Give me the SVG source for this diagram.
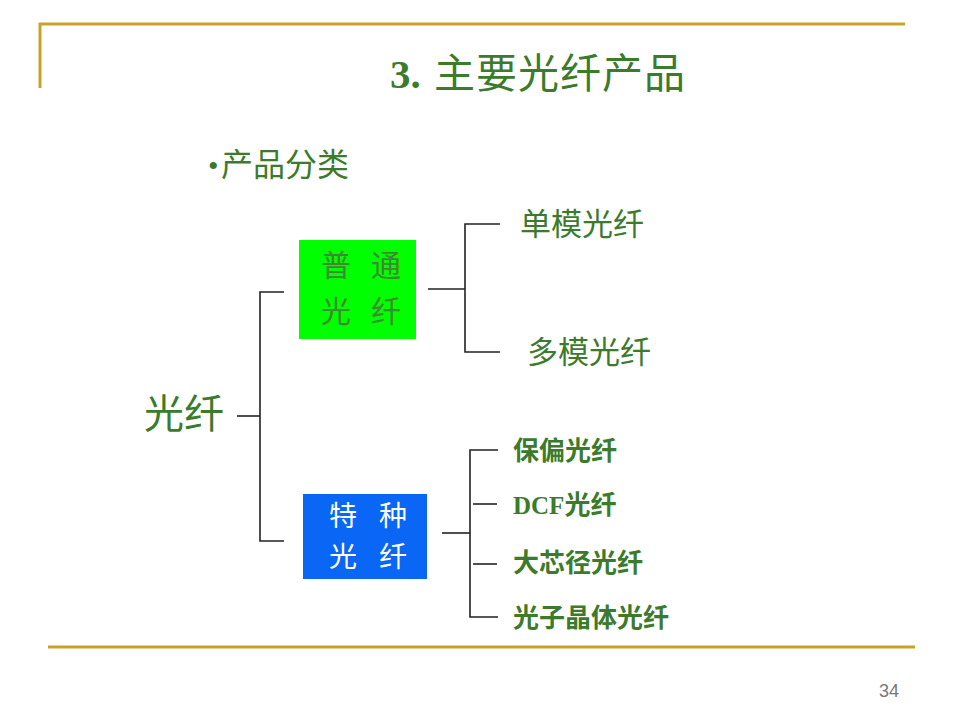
<svg xmlns="http://www.w3.org/2000/svg" width="960" height="720" viewBox="0 0 960 720">
<style>
.g{fill:#3b7b2b;font-family:"Noto Sans CJK SC","Liberation Serif",serif}
.b{font-weight:bold}
.frame{stroke:#c9a227;stroke-width:3;fill:none}
.ln{stroke:#222;stroke-width:1.6;fill:none}
.w{fill:#ffffff;font-family:"Noto Sans CJK SC",sans-serif;font-size:28px}
.gt{fill:#3f8a2f;font-family:"Noto Sans CJK SC",sans-serif;font-size:30px}
</style>
<rect width="960" height="720" fill="#ffffff"/>
<g id="frame">
<line class="frame" x1="39" y1="24" x2="905" y2="24"/>
<line class="frame" x1="40" y1="23" x2="40" y2="88" stroke-width="2"/>
<line class="frame" x1="48" y1="647" x2="915" y2="647"/>
</g>
<g id="title">
<text x="390" y="88" class="g" font-size="41"><tspan font-family="Liberation Serif" font-weight="bold">3.</tspan><tspan x="434" letter-spacing="1">主要光纤产品</tspan></text>
</g>
<g id="subtitle">
<text x="208" y="176" class="g" font-size="32"><tspan font-family="Liberation Serif" font-size="30">•</tspan><tspan x="221">产品分类</tspan></text>
</g>
<g id="connectors">
<polyline class="ln" points="237,416 260,416"/>
<polyline class="ln" points="284,292 260,292 260,541 284,541"/>
<polyline class="ln" points="428,289 465,289"/>
<polyline class="ln" points="500,224 465,224 465,352 500,352"/>
<polyline class="ln" points="442,533 470,533"/>
<polyline class="ln" points="498,450 470,450 470,617 498,617"/>
<polyline class="ln" points="473,504 497,504"/>
<polyline class="ln" points="473,564 497,564"/>
</g>
<g id="node-root">
<text x="144" y="428" class="g" font-size="40">光纤</text>
</g>
<g id="node-common">
<rect x="299" y="240" width="117" height="99" fill="#00ff00"/>
<text class="gt"><tspan x="321" y="276">普</tspan><tspan x="371" y="276">通</tspan><tspan x="321" y="322">光</tspan><tspan x="371" y="322">纤</tspan></text>
</g>
<g id="node-special">
<rect x="303" y="494" width="124" height="85" fill="#0a66f5"/>
<text class="w"><tspan x="329" y="526">特</tspan><tspan x="379" y="526">种</tspan><tspan x="329" y="567">光</tspan><tspan x="379" y="567">纤</tspan></text>
</g>
<g id="node-single">
<text x="520" y="235" class="g" font-size="31">单模光纤</text>
</g>
<g id="node-multi">
<text x="527" y="363" class="g" font-size="31">多模光纤</text>
</g>
<g id="node-pm">
<text x="513" y="460" class="g b" font-size="26">保偏光纤</text>
</g>
<g id="node-dcf">
<text x="513" y="514" class="g b" font-size="26"><tspan font-family="Liberation Serif" font-size="25">DCF</tspan>光纤</text>
</g>
<g id="node-lc">
<text x="513" y="572" class="g b" font-size="26">大芯径光纤</text>
</g>
<g id="node-pc">
<text x="513" y="627" class="g b" font-size="26">光子晶体光纤</text>
</g>
<g id="page">
<text x="879" y="697" font-family="Liberation Sans,sans-serif" font-size="18" fill="#777">34</text>
</g>
</svg>
